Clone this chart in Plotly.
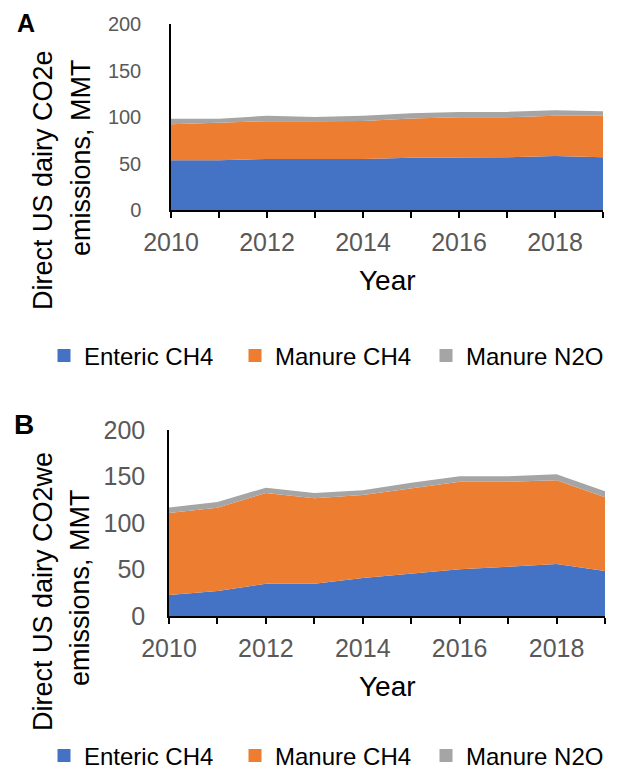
import plotly.graph_objects as go

years = [2010, 2011, 2012, 2013, 2014, 2015, 2016, 2017, 2018, 2019]
tick_labels = ["2010", "", "2012", "", "2014", "", "2016", "", "2018", ""]

# Panel A: Direct US dairy CO2e emissions, MMT
a_enteric_ch4 = [53.5, 53.6, 54.9, 54.9, 54.9, 56.3, 56.3, 56.6, 58.1, 56.6]
a_manure_ch4 = [38.8, 40.2, 40.6, 40.6, 40.9, 42.1, 43.5, 43.2, 43.2, 44.7]
a_manure_n2o = [5.7, 4.4, 5.8, 4.5, 5.5, 5.7, 5.7, 5.7, 6.0, 4.9]

# Panel B: Direct US dairy CO2we emissions, MMT
b_enteric_ch4 = [22.6, 26.9, 34.7, 34.7, 40.9, 45.5, 50.2, 53.0, 55.9, 48.4]
b_manure_ch4 = [88.2, 89.6, 97.6, 91.8, 89.2, 91.8, 94.2, 91.4, 90.0, 79.2]
b_manure_n2o = [6.0, 6.1, 5.7, 5.8, 5.0, 6.0, 5.8, 5.8, 6.4, 6.5]

series_names = ["Enteric CH4", "Manure CH4", "Manure N2O"]
colors = ["#4472C4", "#ED7D31", "#A5A5A5"]

# the page body has an 8px margin; the figure reaches the window's edges
OFF = 8
W, H = 615, 765
FONT = "Liberation Sans, Arial, sans-serif"


def px_x(p):
    return (p - OFF) / W


def px_y(p):
    return 1 - (p - OFF) / H


fig = go.Figure()

panels = [
    ("x", "y", "A", [a_enteric_ch4, a_manure_ch4, a_manure_n2o], "legend"),
    ("x2", "y2", "B", [b_enteric_ch4, b_manure_ch4, b_manure_n2o], "legend2"),
]
for xa, ya, grp, data, leg in panels:
    for name, vals, col in zip(series_names, data, colors):
        fig.add_trace(go.Scatter(
            x=years, y=vals, xaxis=xa, yaxis=ya, name=name,
            stackgroup=grp, mode="lines", line=dict(width=0, color=col),
            fillcolor=col, showlegend=False, hoverinfo="x+y+name"))
    for name, col in zip(series_names, colors):
        fig.add_trace(go.Scatter(
            x=[None], y=[None], xaxis=xa, yaxis=ya, name=name, mode="markers",
            marker=dict(symbol="square", size=13, color=col),
            legend=leg, showlegend=True))

xcommon = dict(range=[2010, 2019], tickmode="array", tickvals=years,
               ticktext=tick_labels, ticks="outside", ticklen=6, tickwidth=1.5,
               tickcolor="black", showline=True, linecolor="black", linewidth=1.5,
               showgrid=False, zeroline=False,
               tickfont=dict(family=FONT, size=25, color="#595959"))
ycommon = dict(range=[0, 200], dtick=50, ticks="", showline=True,
               linecolor="black", linewidth=1.5, showgrid=False, zeroline=False)

legcommon = dict(orientation="h", x=px_x(44), xanchor="left", yanchor="middle",
                 entrywidth=146, traceorder="normal",
                 font=dict(family=FONT, size=24, color="black"),
                 bgcolor="rgba(0,0,0,0)")

fig.update_layout(
    width=W, height=H, margin=dict(l=0, r=0, t=0, b=0, autoexpand=False),
    paper_bgcolor="white", plot_bgcolor="white",
    font=dict(family=FONT, color="black"),
    xaxis=dict(domain=[px_x(171), px_x(603)], anchor="y", ticklabelstandoff=3, **xcommon),
    yaxis=dict(domain=[px_y(210), px_y(24)], anchor="x", ticklabelstandoff=24,
               tickfont=dict(family=FONT, size=20, color="#595959"), **ycommon),
    xaxis2=dict(domain=[px_x(169), px_x(605)], anchor="y2", ticklabelstandoff=3, **xcommon),
    yaxis2=dict(domain=[px_y(616), px_y(430)], anchor="x2", ticklabelstandoff=17,
                tickfont=dict(family=FONT, size=25, color="#595959"), **ycommon),
    legend=dict(y=px_y(356), **legcommon),
    legend2=dict(y=px_y(756), **legcommon),
)

annotations = [
    dict(text="<b>A</b>", x=px_x(26), y=px_y(23), font=dict(size=25)),
    dict(text="<b>B</b>", x=px_x(24), y=px_y(425), font=dict(size=28)),
    dict(text="Year", x=px_x(387), y=px_y(280), font=dict(size=28)),
    dict(text="Year", x=px_x(387), y=px_y(686), font=dict(size=28)),
    dict(text="Direct US dairy CO2e", x=px_x(43), y=px_y(180), textangle=-90, font=dict(size=27)),
    dict(text="emissions, MMT", x=px_x(81), y=px_y(158), textangle=-90, font=dict(size=27)),
    dict(text="Direct US dairy CO2we", x=px_x(43), y=px_y(592), textangle=-90, font=dict(size=27)),
    dict(text="emissions, MMT", x=px_x(80), y=px_y(588), textangle=-90, font=dict(size=27)),
]
for a in annotations:
    a.update(xref="paper", yref="paper", showarrow=False, xanchor="center", yanchor="middle")
    a["font"].update(family=FONT, color="black")
fig.update_layout(annotations=annotations)

fig.write_html("out.html")
